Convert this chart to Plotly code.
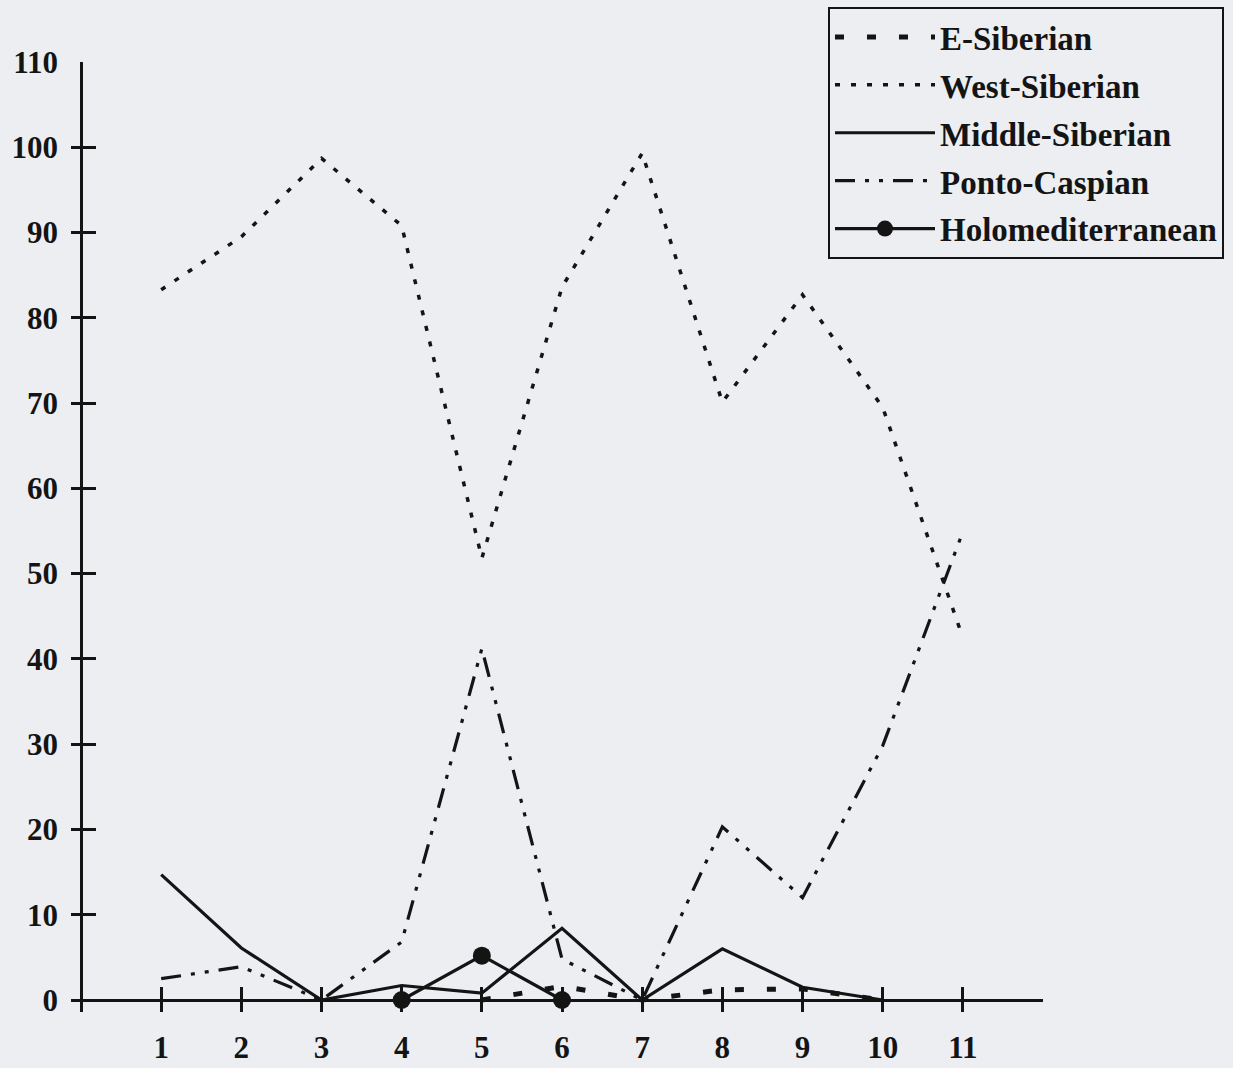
import plotly.graph_objects as go

categories = [1, 2, 3, 4, 5, 6, 7, 8, 9, 10, 11]
tick_labels = ["1", "2", "3", "4", "5", "6", "7", "8", "9", "10", "11"]
y_ticks = [0, 10, 20, 30, 40, 50, 60, 70, 80, 90, 100, 110]

e_siberian = [None, None, None, None, 0, 1.6, 0, 1.2, 1.3, 0, None]
west_siberian = [83.3, 89.5, 98.7, 90.8, 51.8, 83.6, 99.3, 70.1, 82.7, 69.5, 42.5]
middle_siberian = [14.7, 6.1, 0, 1.7, 0.8, 8.4, 0, 6.0, 1.5, 0, None]
ponto_caspian = [2.5, 3.9, 0, 6.8, 41.2, 4.8, 0, 20.3, 12.0, 29.8, 54.9]
holomediterranean = [None, None, None, 0, 5.2, 0, None, None, None, None, None]

INK = "#141414"
BG = "#eceef1"
FONT = "Liberation Serif"

fig = go.Figure()
fig.add_trace(go.Scatter(x=categories, y=e_siberian, name="E-Siberian", mode="lines",
                         legendgroup="a",
                         line=dict(color=INK, width=5, dash="9px,23px"), connectgaps=False))
fig.add_trace(go.Scatter(x=categories, y=west_siberian, name="West-Siberian", mode="lines",
                         legendgroup="b",
                         line=dict(color=INK, width=3.5, dash="5px,11px")))
fig.add_trace(go.Scatter(x=categories, y=middle_siberian, name="Middle-Siberian", mode="lines",
                         legendgroup="c",
                         line=dict(color=INK, width=3.2)))
fig.add_trace(go.Scatter(x=categories, y=ponto_caspian, name="Ponto-Caspian", mode="lines",
                         legendgroup="d",
                         line=dict(color=INK, width=3.2, dash="20px,10px,4px,10px,4px,10px")))
fig.add_trace(go.Scatter(x=categories, y=holomediterranean, name="Holomediterranean",
                         mode="lines+markers", legendgroup="e",
                         line=dict(color=INK, width=3.2),
                         marker=dict(color=INK, size=18, symbol="circle")))

fig.update_layout(
    width=1233, height=1068,
    margin=dict(l=71, r=190, t=62, b=56, autoexpand=False),
    paper_bgcolor=BG, plot_bgcolor=BG,
    font=dict(family=FONT, color=INK, size=30, weight="bold"),
    showlegend=True,
    legend=dict(
        x=(828 - 71) / 972, y=(1012 - 7) / 950, xanchor="left", yanchor="top",
        bordercolor=INK, borderwidth=2, bgcolor=BG,
        font=dict(family=FONT, size=33, color=INK, weight="bold"),
        itemwidth=100, traceorder="grouped", tracegroupgap=2,
    ),
    xaxis=dict(
        range=[-0.125, 12], showgrid=False, showline=False, automargin=False,
        zeroline=True, zerolinecolor=INK, zerolinewidth=3,
        tickmode="array", tickvals=categories + [12], ticktext=tick_labels + [""],
        ticks="inside", ticklen=25, tickwidth=2.5, tickcolor=INK,
        tickfont=dict(family=FONT, size=31, color=INK, weight="bold"),
        ticklabelstandoff=14,
    ),
    yaxis=dict(
        range=[-12 / 8.527, 110], showgrid=False, showline=False, automargin=False,
        zeroline=True, zerolinecolor=INK, zerolinewidth=3,
        tickmode="array", tickvals=y_ticks,
        ticks="inside", ticklen=25, tickwidth=2.5, tickcolor=INK,
        tickfont=dict(family=FONT, size=31, color=INK, weight="bold"),
        ticklabelstandoff=12,
    ),
)

fig.write_html("out.html")
